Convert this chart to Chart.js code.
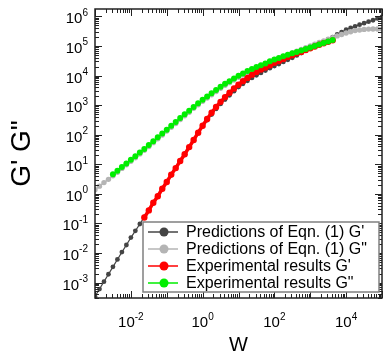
<!DOCTYPE html>
<html>
<head>
<meta charset="utf-8">
<script src="https://cdn.jsdelivr.net/npm/chart.js@4.4.0/dist/chart.umd.min.js"></script>
<style>
body { margin: 0; background: #fff; }
canvas { display: block; }
</style>
</head>
<body>
<canvas id="moduli" width="386" height="354"></canvas>
<script>
// frequencies of the model curves
var w = [0.001, 0.001334, 0.001778, 0.002371, 0.003162, 0.004217, 0.005623, 0.007499,
  0.01, 0.01334, 0.01778, 0.02371, 0.03162, 0.04217, 0.05623, 0.07499,
  0.1, 0.1334, 0.1778, 0.2371, 0.3162, 0.4217, 0.5623, 0.7499,
  1, 1.334, 1.778, 2.371, 3.162, 4.217, 5.623, 7.499,
  10, 13.34, 17.78, 23.71, 31.62, 42.17, 56.23, 74.99,
  100, 133.4, 177.8, 237.1, 316.2, 421.7, 562.3, 749.9,
  1000, 1334, 1778, 2371, 3162, 4217, 5623, 7499,
  10000, 13340, 17780, 23710, 31620, 42170, 56230, 74990, 100000]
var predG1 = [3.39e-4, 6.03e-4, 1.07e-3, 1.91e-3, 3.39e-3, 6.03e-3, 1.07e-2, 1.86e-2,
  3.31e-2, 5.62e-2, 9.55e-2, 0.166, 0.282, 0.490, 0.851, 1.45,
  2.51, 4.27, 7.24, 12.6, 21.4, 37.2, 64.6, 112,
  191, 309, 479, 741, 1096, 1549, 2138, 2951,
  4074, 5248, 6607, 8318, 10230, 12300, 14790, 17780,
  20890, 24550, 28840, 33880, 39810, 47860, 57540, 69180,
  83180, 97720, 117500, 138000, 166000, 199500, 245500, 295100,
  354800, 407400, 457100, 524800, 588800, 660700, 741300, 851100, 955000]
var predG2 = [1.38, 1.82, 2.40, 3.09, 4.07, 5.37, 7.24, 9.55,
  12.6, 16.6, 22.4, 29.5, 39.8, 53.7, 72.4, 97.7,
  132, 178, 240, 324, 437, 575, 776, 1023,
  1349, 1738, 2239, 2884, 3715, 4677, 5754, 7079,
  8710, 10470, 12590, 15140, 17780, 20890, 23990, 28180,
  32360, 37150, 43650, 50120, 57540, 66070, 75860, 87100,
  100000, 114800, 131800, 147900, 169800, 190500, 218800, 245500,
  275400, 302000, 331100, 346700, 363100, 371500, 375800, 375800, 371500]

// frequencies of the measurements
var wExp = [0.003162, 0.004217, 0.005623, 0.007499,
  0.01, 0.01334, 0.01778, 0.02371, 0.03162, 0.04217, 0.05623, 0.07499,
  0.1, 0.1334, 0.1778, 0.2371, 0.3162, 0.4217, 0.5623, 0.7499,
  1, 1.334, 1.778, 2.371, 3.162, 4.217, 5.623, 7.499,
  10, 13.34, 17.78, 23.71, 31.62, 42.17, 56.23, 74.99,
  100, 133.4, 177.8, 237.1, 316.2, 421.7, 562.3, 749.9,
  1000, 1334, 1778, 2371, 3162, 4217]
var expG1 = [null, null, null, null, null, null, null,
  0.158, 0.275, 0.501, 0.832, 1.48,
  2.51, 4.47, 7.41, 12.9, 21.9, 38.0, 66.1, 117,
  200, 339, 550, 871, 1288, 1862, 2630, 3631,
  4898, 6457, 8318, 10720, 13180, 15850, 18620, 22390,
  26920, 30900, 36310, 42660, 48980, 56230, 63100, 72440,
  83180, 95500, 109600, 123000, 138000, 154900]
var expG2 = [4.57, 6.03, 8.13, 10.7,
  14.1, 18.6, 25.1, 33.1, 44.7, 60.3, 81.3, 110,
  148, 200, 269, 363, 490, 646, 871, 1148,
  1514, 1950, 2512, 3236, 4169, 5248, 6457, 7943,
  9772, 11750, 14130, 16600, 19500, 22390, 25700, 30200,
  34670, 38900, 44670, 50120, 56230, 63100, 70790, 79430,
  89130, 100000, 112200, 125900, 141300, 158500]

var seriesNames = ["Predictions of Eqn. (1) G'", 'Predictions of Eqn. (1) G"',
  "Experimental results G'", 'Experimental results G"']
var xDecades = [-3, -2, -1, 0, 1, 2, 3, 4, 5]
var xTickExps = ['-2', '0', '2', '4']
var yDecades = [-4, -3, -2, -1, 0, 1, 2, 3, 4, 5, 6]
var yTickExps = ['-3', '-2', '-1', '0', '1', '2', '3', '4', '5', '6']

var pairs = function(xs, ys) {
  var out = []
  xs.forEach(function(x, i) { out.push({x: x, y: ys[i]}) })
  return out
}

var font = '"Liberation Sans", Arial, sans-serif'

var frame = {
  id: 'frame',
  afterDraw: function(chart) {
    var ctx = chart.ctx
    var a = chart.chartArea
    var xs = chart.scales.x
    var ys = chart.scales.y
    ctx.save()
    ctx.strokeStyle = '#222'
    ctx.lineWidth = 1
    // inward ticks on all four sides
    xDecades.forEach(function(d) {
      for (var m = 1; m < 10; m++) {
        var v = m * Math.pow(10, d)
        if (v < xs.min * 0.999 || v > xs.max * 1.001) continue
        var px = Math.round(xs.getPixelForValue(v)) + 0.5
        var len = m === 1 ? 7 : 4
        ctx.beginPath()
        ctx.moveTo(px, a.bottom); ctx.lineTo(px, a.bottom - len)
        ctx.moveTo(px, a.top); ctx.lineTo(px, a.top + len)
        ctx.stroke()
      }
    })
    yDecades.forEach(function(d) {
      for (var m = 1; m < 10; m++) {
        var v = m * Math.pow(10, d)
        if (v < ys.min * 0.999 || v > ys.max * 1.001) continue
        var py = Math.round(ys.getPixelForValue(v)) + 0.5
        var len = m === 1 ? 7 : 4
        ctx.beginPath()
        ctx.moveTo(a.left, py); ctx.lineTo(a.left + len, py)
        ctx.moveTo(a.right, py); ctx.lineTo(a.right - len, py)
        ctx.stroke()
      }
    })
    ctx.lineWidth = 1.5
    ctx.strokeRect(a.left, a.top, a.right - a.left, a.bottom - a.top)

    // tick labels 10^n
    ctx.fillStyle = '#000'
    ctx.textBaseline = 'alphabetic'
    xTickExps.forEach(function(e) {
      var px = xs.getPixelForValue(Math.pow(10, Number(e)))
      ctx.font = '15px ' + font
      var bw = ctx.measureText('10').width
      ctx.font = '10px ' + font
      var ew = ctx.measureText(e).width
      var left = px - (bw + ew) / 2
      ctx.textAlign = 'left'
      ctx.font = '15px ' + font
      ctx.fillText('10', left, a.bottom + 29)
      ctx.font = '10px ' + font
      ctx.fillText(e, left + bw, a.bottom + 22)
    })
    yTickExps.forEach(function(e) {
      var py = ys.getPixelForValue(Math.pow(10, Number(e)))
      ctx.font = '10px ' + font
      var ew = ctx.measureText(e).width
      var right = a.left - 7
      ctx.textAlign = 'left'
      ctx.fillText(e, right - ew, py - 0.5)
      ctx.textAlign = 'right'
      ctx.font = '15px ' + font
      ctx.fillText('10', right - ew, py + 7)
    })

    // axis titles
    ctx.textAlign = 'center'
    ctx.font = '20px ' + font
    ctx.fillText('W', (a.left + a.right) / 2, 351)
    ctx.save()
    ctx.translate(30, (a.top + a.bottom) / 2)
    ctx.rotate(-Math.PI / 2)
    ctx.font = '28px ' + font
    ctx.fillText('G\' G"', 0, 0)
    ctx.restore()

    // legend box inside the plot
    var lx = a.left + 48, ly = a.top + 213, lw = a.right - a.left - 51, lh = 70
    ctx.fillStyle = '#fff'
    ctx.fillRect(lx, ly, lw, lh)
    ctx.strokeStyle = '#808080'
    ctx.lineWidth = 1.5
    ctx.strokeRect(lx, ly, lw, lh)
    chart.data.datasets.forEach(function(ds, i) {
      var cy = ly + 10 + i * 17
      ctx.strokeStyle = ds.borderColor
      ctx.lineWidth = 1.5
      ctx.beginPath()
      ctx.moveTo(lx + 5, cy); ctx.lineTo(lx + 35, cy)
      ctx.stroke()
      ctx.fillStyle = ds.borderColor
      ctx.beginPath()
      ctx.arc(lx + 21, cy, 4.5, 0, Math.PI * 2)
      ctx.fill()
      ctx.fillStyle = '#000'
      ctx.textAlign = 'left'
      ctx.textBaseline = 'middle'
      ctx.font = '16px ' + font
      ctx.fillText(ds.label, lx + 43, cy + 1)
    })
    ctx.restore()
  }
}

var line = function(label, xs, ys, color, radius, width, order) {
  return {
    label: label,
    data: pairs(xs, ys),
    borderColor: color,
    backgroundColor: color,
    pointBackgroundColor: color,
    pointBorderWidth: 0,
    pointRadius: radius,
    borderWidth: width,
    order: order
  }
}

var chart = new Chart(document.getElementById('moduli').getContext('2d'), {
  type: 'line',
  data: {
    datasets: [
      line(seriesNames[0], w, predG1, '#444444', 2.4, 1.2, 3),
      line(seriesNames[1], w, predG2, '#b4b4b4', 2.7, 1.5, 2),
      line(seriesNames[2], wExp, expG1, '#ff0000', 3.2, 3.5, 1),
      line(seriesNames[3], wExp, expG2, '#00ee00', 3, 1.5, 0)
    ]
  },
  options: {
    responsive: false,
    animation: false,
    layout: { padding: { left: 95, right: 3, top: 9, bottom: 56 } },
    plugins: { legend: { display: false }, tooltip: { enabled: false } },
    scales: {
      x: { type: 'logarithmic', min: 0.001, max: 100000, display: false },
      y: { type: 'logarithmic', min: 3.162e-4, max: 1.778e6, display: false }
    }
  },
  plugins: [frame]
})
</script>
</body>
</html>
